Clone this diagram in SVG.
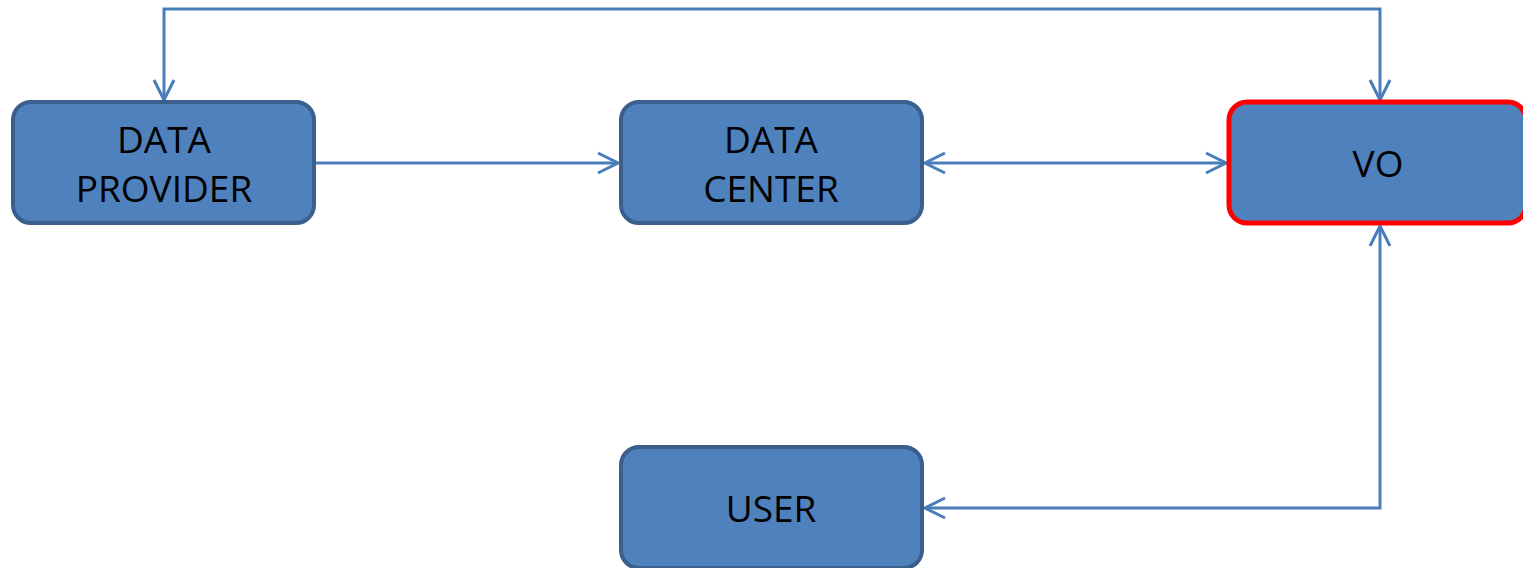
<svg xmlns="http://www.w3.org/2000/svg" width="1523" height="568" viewBox="0 0 1523 568">
  <style>
    .box { fill: #4F81BD; stroke: #3A5F8C; stroke-width: 4; }
    .box.vo { stroke: #FF0000; stroke-width: 5; }
    .label { font-family: "Open Sans", "Liberation Sans", sans-serif; font-size: 37px; fill: #000; text-anchor: middle; }
    .link { fill: none; stroke: #4A7EBB; stroke-width: 3; }
  </style>
  <defs>
    <marker id="arrow" markerUnits="userSpaceOnUse" markerWidth="26" markerHeight="26" viewBox="0 0 26 26" refX="23" refY="13" orient="auto-start-reverse">
      <path d="M3,3 L23,13 L3,23" fill="none" stroke="#4A7EBB" stroke-width="3"/>
    </marker>
  </defs>

  <rect width="1523" height="568" fill="#FFFFFF"/>

  <!-- connectors -->
  <g id="connectors">
    <path class="link" d="M164,100 V9 H1380 V100" marker-start="url(#arrow)" marker-end="url(#arrow)"/>
    <path class="link" d="M316,163 H618" marker-end="url(#arrow)"/>
    <path class="link" d="M925,163 H1226" marker-start="url(#arrow)" marker-end="url(#arrow)"/>
    <path class="link" d="M1380,226 V508 H925" marker-start="url(#arrow)" marker-end="url(#arrow)"/>
  </g>

  <g id="data-provider">
    <rect class="box" x="13" y="102" width="301" height="121" rx="18"/>
    <text class="label" x="164" y="153">DATA</text>
    <text class="label" x="164" y="202">PROVIDER</text>
  </g>

  <g id="data-center">
    <rect class="box" x="621" y="102" width="301" height="121" rx="18"/>
    <text class="label" x="771" y="153">DATA</text>
    <text class="label" x="771" y="202">CENTER</text>
  </g>

  <g id="vo">
    <rect class="box vo" x="1229" y="102" width="297" height="121" rx="18"/>
    <text class="label" x="1378" y="177">VO</text>
  </g>

  <g id="user">
    <rect class="box" x="621" y="447" width="301" height="121" rx="18"/>
    <text class="label" x="771" y="522">USER</text>
  </g>
</svg>
